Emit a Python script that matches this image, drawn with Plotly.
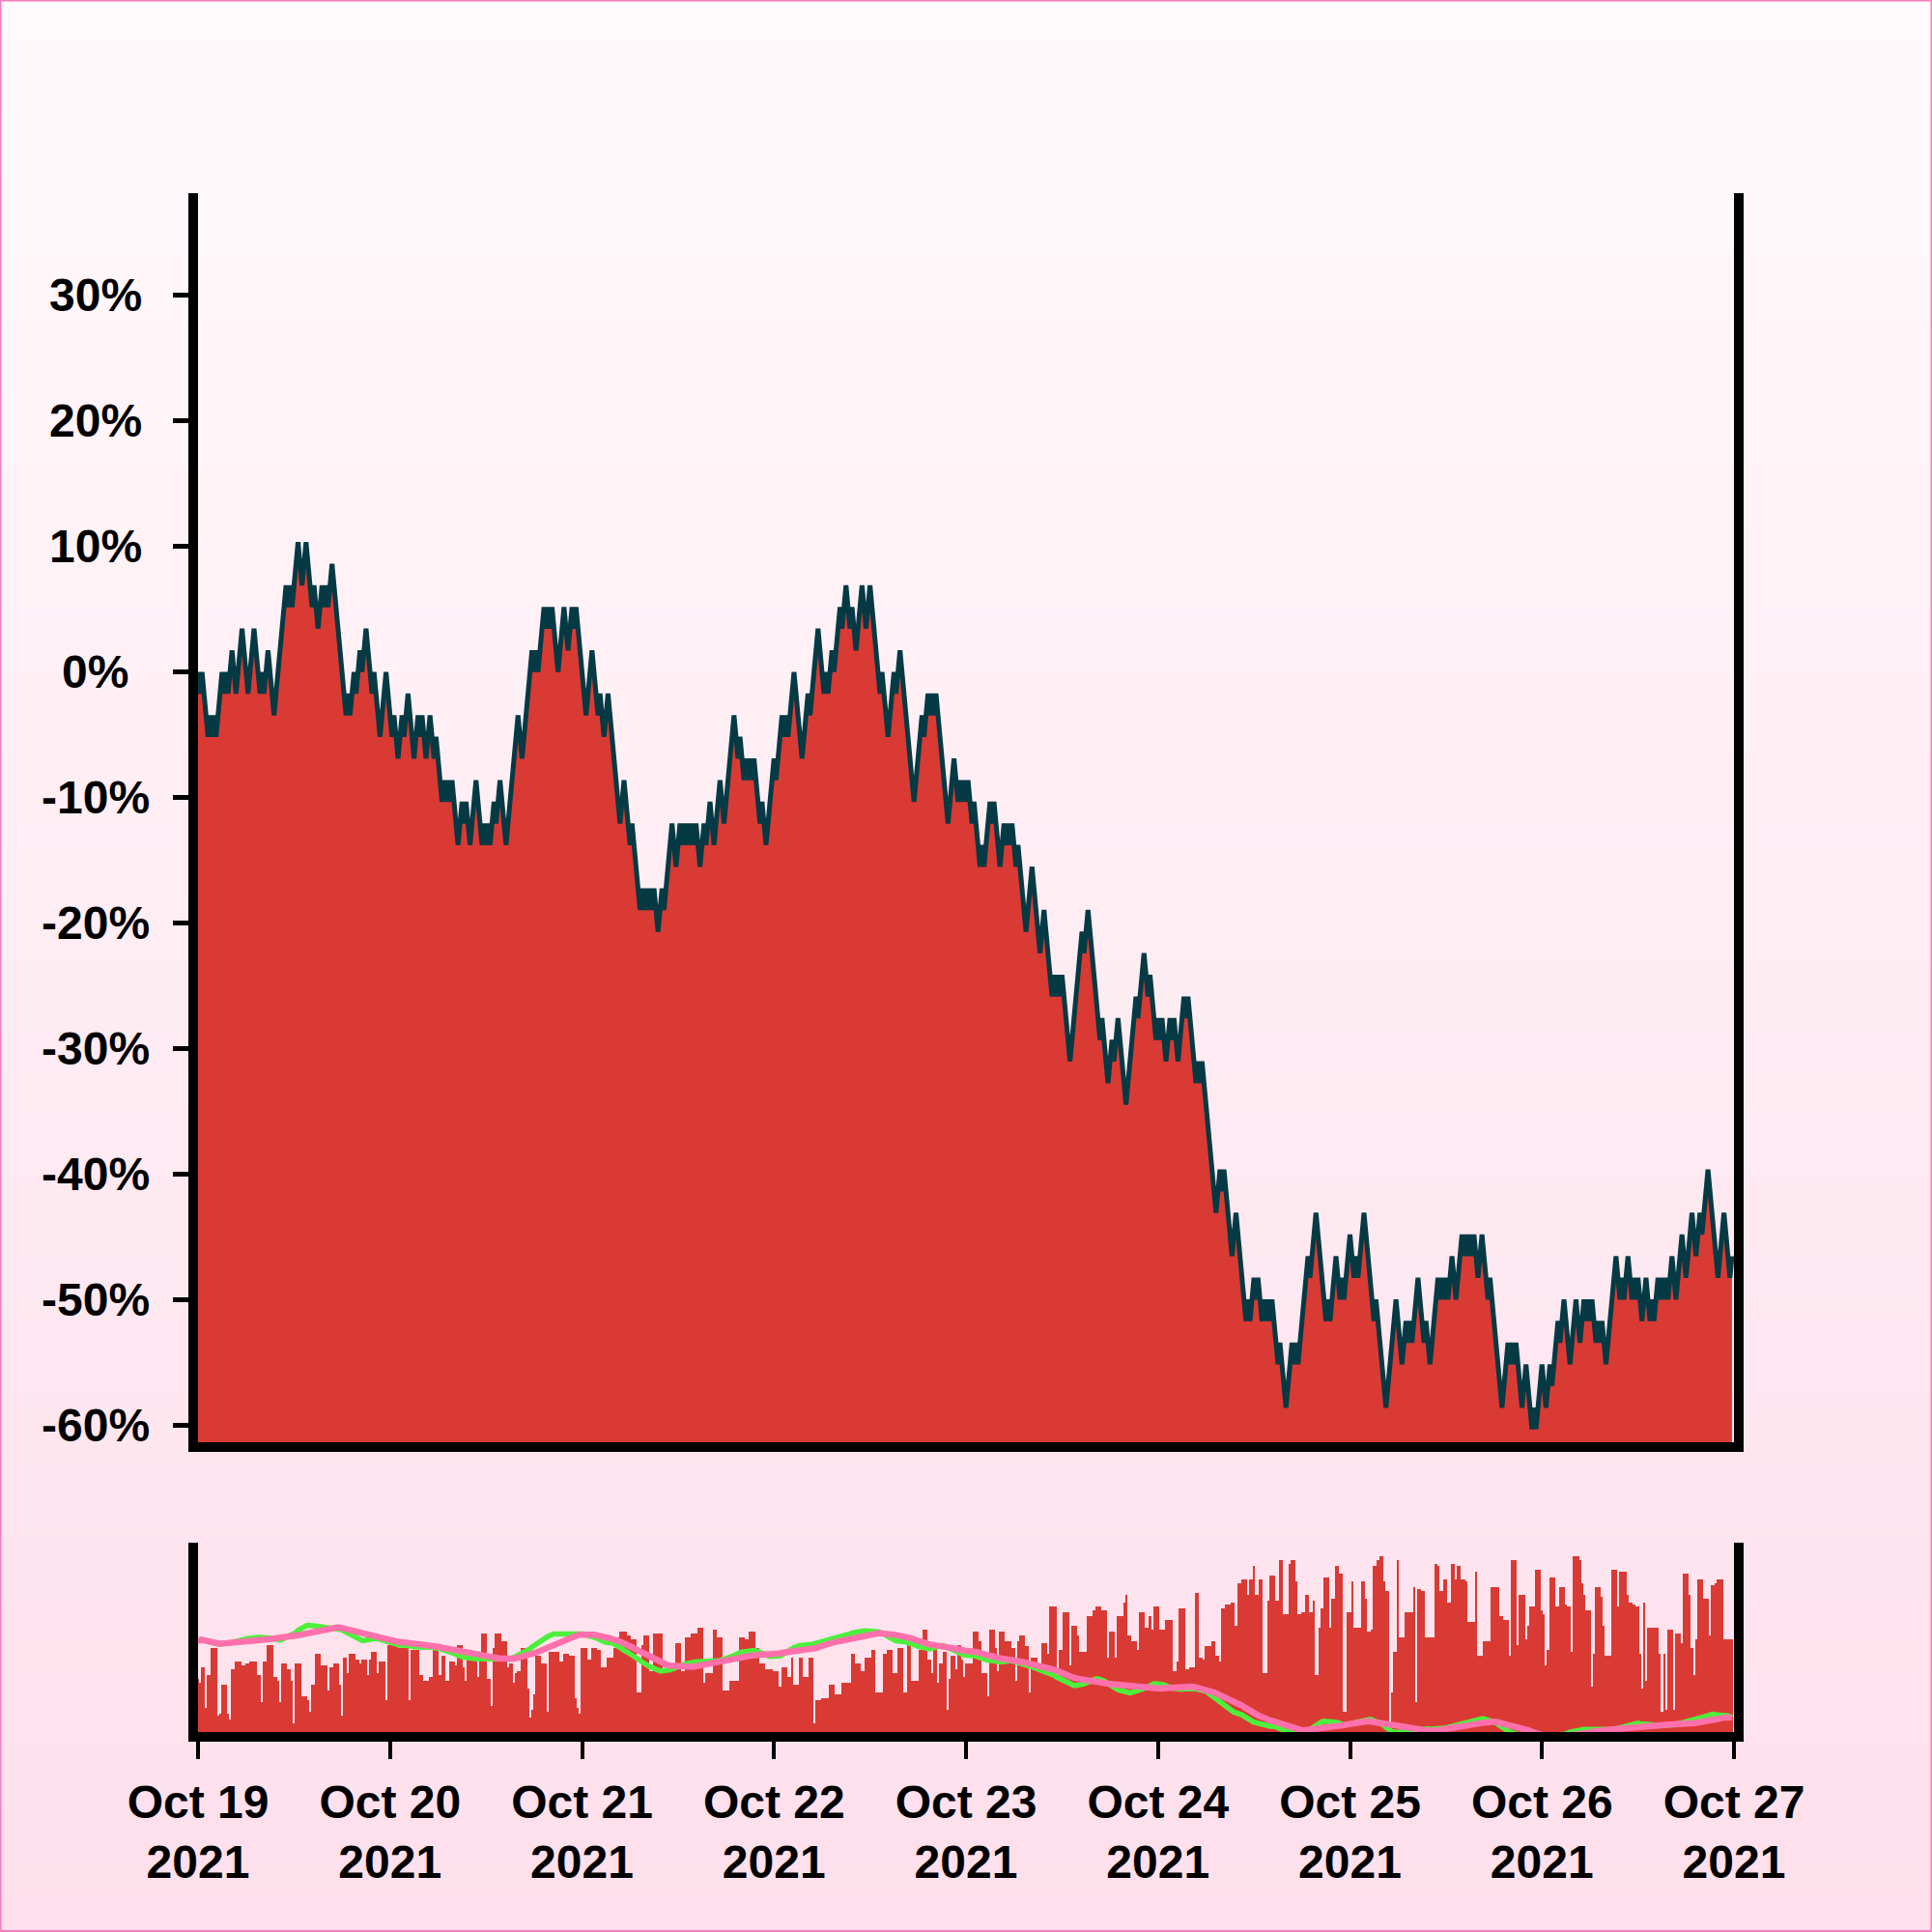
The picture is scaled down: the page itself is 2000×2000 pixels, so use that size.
import base64, struct, zlib
import pandas as pd
import plotly.graph_objects as go

# ---------------- data ----------------
START = "2021-10-19 00:00"
INTERVAL = "15min"

close = [
    58,57,58,57,56,55,56,55,56,55, 56,57,58,57,58,57,58,59,58,57,
    58,59,60,59,58,57,58,59,60,59, 58,57,58,57,58,59,58,57,56,57,
    58,59,60,61,62,61,62,61,62,63, 64,63,62,63,64,63,62,61,62,61,
    60,61,62,61,62,61,62,63,62,61, 60,59,58,57,56,57,56,57,58,57,
    58,59,58,59,60,59,58,57,58,57, 56,55,56,57,58,57,56,55,56,55,
    54,55,56,55,56,57,56,55,54,55, 56,55,56,55,54,55,56,55,54,55,
    54,53,52,53,52,53,52,53,52,51, 50,51,52,51,52,51,50,51,52,53,
    52,51,50,51,50,51,50,51,52,51, 52,53,52,51,50,51,52,53,54,55,
    56,55,54,55,56,57,58,59,58,59, 58,59,60,61,60,61,60,61,60,59,
    58,59,60,61,60,59,60,61,60,61, 60,59,58,57,56,57,58,59,58,57,
    56,57,56,55,56,57,56,55,54,53, 52,51,52,53,52,51,50,51,50,49,
    48,47,48,47,48,47,48,47,48,47, 46,47,48,47,48,49,50,51,50,49,
    50,51,50,51,50,51,50,51,50,51, 50,49,50,51,50,51,52,51,50,51,
    52,53,52,51,52,53,54,55,56,55, 54,55,54,53,54,53,54,53,54,53,
    52,51,52,51,50,51,52,53,54,53, 54,55,56,55,56,55,56,57,58,57,
    56,55,54,55,56,57,56,57,58,59, 60,59,58,57,58,57,58,59,58,59,
    60,61,60,61,62,61,60,61,60,59, 60,61,62,61,60,61,62,61,60,59,
    58,57,58,57,56,55,56,57,58,57, 58,59,58,57,56,55,54,53,52,53,
    54,55,56,55,56,57,56,57,56,57, 56,55,54,53,52,51,52,53,54,53,
    52,53,52,53,52,53,52,51,52,51, 50,49,50,49,50,51,52,51,52,51,
    50,49,50,51,50,51,50,51,50,49, 50,49,48,47,46,47,48,49,48,47,
    46,45,46,47,46,45,44,43,44,43, 44,43,44,43,42,41,40,41,42,43,
    44,45,46,45,46,47,46,45,44,43, 42,41,42,41,40,39,40,41,40,41,
    42,41,40,39,38,39,40,41,42,43, 42,43,44,45,44,43,44,43,42,41,
    42,41,42,41,40,41,42,41,42,41, 40,41,42,43,42,43,42,41,40,39,
    40,39,40,39,38,37,36,35,34,33, 34,35,34,35,34,33,32,31,32,33,
    32,31,30,29,28,29,28,29,30,29, 30,29,28,29,28,29,28,29,28,27,
    26,27,26,25,24,25,26,27,26,27, 26,27,28,29,30,31,30,31,32,33,
    32,31,30,29,28,29,28,29,30,31, 30,29,30,29,30,31,32,31,30,31,
    30,31,32,33,32,31,30,29,28,29, 28,27,26,25,24,25,26,27,28,29,
    28,27,26,27,28,27,28,27,28,29, 30,29,28,27,28,27,26,27,28,29,
    30,29,30,29,30,29,30,31,30,29, 30,31,32,31,32,31,32,31,32,31,
    30,31,32,31,30,29,30,29,28,27, 26,25,24,25,26,27,26,27,26,27,
    26,25,24,25,26,25,24,23,24,23, 24,25,26,25,24,25,26,25,26,27,
    28,27,28,29,28,27,26,27,28,29, 28,27,28,29,28,29,28,29,28,27,
    28,27,28,27,26,27,28,29,30,31, 30,29,30,29,30,31,30,29,30,29,
    30,29,28,29,30,29,28,29,28,29, 30,29,30,29,30,29,30,31,30,29,
    30,31,32,31,30,31,32,33,32,31, 32,33,32,33,34,35,34,33,32,31,
    30,31,32,33,32,31,30,31,
]

volume = [
    30,28,36,36,15,32,32,46,46,46, 11,12,27,27,27,12,9,35,35,39,
    39,39,37,37,38,38,39,39,39,39, 32,32,18,39,39,48,48,48,31,31,
    29,18,38,38,38,35,35,29,7,38, 38,38,21,21,21,19,13,27,27,43,
    43,43,37,37,37,24,36,36,38,38, 38,27,11,41,41,33,43,43,43,40,
    40,38,40,40,40,32,40,44,44,44, 33,39,39,39,19,48,51,51,51,51,
    51,46,46,46,46,46,19,45,45,45, 45,32,32,29,29,29,31,31,46,46,
    46,32,42,42,29,29,39,39,39,37, 48,48,48,36,29,40,40,40,40,40,
    31,40,54,54,54,30,30,16,46,54, 54,54,50,50,50,36,38,38,28,33,
    34,34,46,46,46,25,10,14,22,42, 42,42,38,38,38,13,44,44,44,44,
    44,39,39,43,43,43,42,42,42,20, 15,12,46,46,46,40,40,46,46,46,
    45,45,36,36,36,41,41,41,46,52, 52,55,55,55,55,53,53,51,51,51,
    23,23,48,53,53,53,34,34,54,54, 54,54,54,34,34,34,34,34,34,49,
    49,49,34,34,52,52,52,54,54,54, 57,57,57,28,33,33,33,33,56,56,
    52,52,52,24,24,24,29,29,29,29, 29,52,52,52,51,51,55,55,55,46,
    46,38,38,38,35,35,35,35,34,34, 34,26,36,36,36,31,31,41,27,27,
    27,41,41,31,31,31,41,41,7,19, 19,19,20,20,20,20,27,27,27,22,
    22,22,28,28,28,28,28,43,43,38, 38,38,34,34,41,41,41,45,45,23,
    23,23,23,43,43,45,45,45,33,33, 46,46,46,23,23,50,50,29,29,29,
    29,45,45,56,56,40,40,33,47,47, 28,38,38,44,44,14,30,42,42,35,
    48,48,40,31,
    38,38,38,38,55,55,55,50,33,33, 33,21,56,56,56,46,34,55,55,55,
    50,50,50,46,46,29,50,53,53,53, 47,47,23,41,41,41,38,38,49,49,
    49,43,68,68,68,68,32,45,45,65, 65,65,37,58,58,58,53,44,44,44,
    44,63,63,63,66,68,68,68,66,66, 66,41,55,55,55,41,63,63,63,70,
    74,53,53,50,50,50,45,65,65,65, 57,57,63,56,68,68,68,56,56,56,
    61,61,61,61,34,34,39,67,67,67, 35,35,36,36,36,75,75,41,41,40,
    47,47,47,50,50,42,42,39,67,67, 69,69,69,70,70,58,80,80,82,82,
    82,74,82,82,89,74,74,82,82,33, 33,71,84,84,84,71,71,92,92,64,
    64,64,90,92,92,81,64,64,65,65, 74,74,65,65,71,32,32,57,67,83,
    83,83,57,72,72,89,89,85,85,13, 13,65,65,81,57,57,57,57,81,81,
    72,55,55,56,89,89,92,94,94,81, 76,76,7,23,44,44,92,52,52,52,
    65,65,65,65,78,18,77,77,76,76, 52,52,52,52,52,90,89,76,76,82,
    82,70,70,90,90,82,89,89,82,82, 81,60,60,60,60,86,42,42,42,50,
    50,50,50,78,
    78,78,78,63,63,61,61,61,42,92, 92,92,48,74,74,74,51,58,68,68,
    68,87,87,87,66,64,37,45,83,83, 83,68,68,78,78,78,69,68,68,44,
    94,94,94,92,80,74,66,66,66,26, 43,78,78,78,73,58,42,42,42,87,
    87,87,68,86,86,86,86,74,70,70, 69,68,68,43,25,70,29,57,57,57,
    57,57,57,43,13,43,14,56,56,56, 14,54,54,54,49,85,85,85,74,46,
    32,51,82,82,82,72,72,72,53,79, 79,80,82,82,82,51,51,51,51,51,
]

MA_FAST = 12
MA_SLOW = 28

Y_TICKS = [-60, -50, -40, -30, -20, -10, 0, 10, 20, 30]
Y_RANGE = [-61.4, 38.15]
VOL_RANGE = [2.3, 101.5]
MA_RANGE = [-53.6, 55.6]
X_RANGE = ["2021-10-19 00:00", "2021-10-27 00:00"]

# ---------------- derived series ----------------
dates = pd.date_range(START, periods=len(close), freq=INTERVAL)
s = pd.Series(close, index=dates, dtype=float)
pct = (s / s.iloc[0] - 1.0) * 100.0
ma_fast = pct.rolling(MA_FAST, min_periods=1).mean()
ma_slow = pct.rolling(MA_SLOW, min_periods=1).mean()
n = min(len(dates), len(volume))
vol_x, vol_y = dates[:n], volume[:n]

# ---------------- style ----------------
RED = "#da3a34"
DARK = "#053a44"
GREEN = "#4cf03c"
PINK = "#ff70ac"
FONT = "Liberation Sans, Arial, Helvetica, sans-serif"

W = H = 2000
ML, MR, MT, MB = 205, 205, 200, 206.5
PW, PH = W - ML - MR, H - MT - MB
plot_bottom = H - MB
main_bottom = (plot_bottom - 1493.7) / PH
sub_top = (plot_bottom - 1597) / PH
YLABEL_X = (98.8 - ML) / PW   # centre of y tick labels (paper coords)

def gradient_png(top, bottom, n=256):
    rows = []
    for i in range(n):
        t = i / (n - 1)
        c = bytes(int(round(a + (b - a) * t)) for a, b in zip(top, bottom))
        rows.append(b"\x00" + c * 2)
    raw = b"".join(rows)
    def chunk(tag, data):
        return (struct.pack(">I", len(data)) + tag + data +
                struct.pack(">I", zlib.crc32(tag + data) & 0xffffffff))
    png = (b"\x89PNG\r\n\x1a\n" +
           chunk(b"IHDR", struct.pack(">IIBBBBB", 2, n, 8, 2, 0, 0, 0)) +
           chunk(b"IDAT", zlib.compress(raw, 9)) + chunk(b"IEND", b""))
    return "data:image/png;base64," + base64.b64encode(png).decode()

bg = gradient_png((255, 250, 252), (254, 223, 235))

fig = go.Figure()
fig.add_trace(go.Scatter(x=dates, y=[Y_RANGE[0]] * len(dates), mode="lines",
                         line=dict(width=0, color=RED), hoverinfo="skip",
                         showlegend=False, xaxis="x", yaxis="y"))
fig.add_trace(go.Scatter(x=dates, y=pct, mode="none", fill="tonexty",
                         fillcolor=RED, showlegend=False, xaxis="x", yaxis="y"))
fig.add_trace(go.Scatter(x=dates, y=pct, mode="lines",
                         line=dict(color=DARK, width=5), showlegend=False,
                         xaxis="x", yaxis="y"))
fig.add_trace(go.Bar(x=vol_x, y=vol_y, marker=dict(color=RED, line=dict(width=0)),
                     showlegend=False, xaxis="x2", yaxis="y2"))
fig.add_trace(go.Scatter(x=dates, y=ma_fast, mode="lines",
                         line=dict(color=GREEN, width=5.5), showlegend=False,
                         xaxis="x2", yaxis="y3"))
fig.add_trace(go.Scatter(x=dates, y=ma_slow, mode="lines",
                         line=dict(color=PINK, width=6.5), showlegend=False,
                         xaxis="x2", yaxis="y3"))

axis_line = dict(showline=True, linecolor="black", linewidth=10, showgrid=False,
                 zeroline=False, automargin=False)
label_font = dict(family=FONT, size=48, color="black", weight="bold")

annotations = [dict(x=YLABEL_X, y=v, xref="paper", yref="y", text=f"{v}%",
                    showarrow=False, xanchor="center", yanchor="middle",
                    font=label_font) for v in Y_TICKS]

fig.update_layout(
    width=W, height=H,
    margin=dict(l=ML, r=MR, t=MT, b=MB, pad=0, autoexpand=False),
    paper_bgcolor="rgba(0,0,0,0)", plot_bgcolor="rgba(0,0,0,0)",
    showlegend=False, bargap=0, hovermode=False,
    xaxis=dict(domain=[0, 1], anchor="y", range=X_RANGE, type="date", matches="x2",
               showticklabels=False, ticks="", **axis_line),
    yaxis=dict(domain=[main_bottom, 1], anchor="x", range=Y_RANGE,
               tickvals=Y_TICKS, showticklabels=False,
               ticks="outside", ticklen=16, tickwidth=5, tickcolor="black",
               mirror=True, **axis_line),
    xaxis2=dict(domain=[0, 1], anchor="y2", range=X_RANGE, type="date",
                dtick=86400000, tick0="2021-10-19", tickformat="%b %d<br>%Y",
                ticks="outside", ticklen=18, tickwidth=4, tickcolor="black",
                tickfont=label_font, ticklabelstandoff=3, **axis_line),
    yaxis2=dict(domain=[0, sub_top], anchor="x2", range=VOL_RANGE,
                showticklabels=False, ticks="", mirror=True, **axis_line),
    yaxis3=dict(overlaying="y2", anchor="x2", range=MA_RANGE, visible=False),
    annotations=annotations,
    images=[dict(source=bg, xref="paper", yref="paper",
                 x=-ML / PW, y=1 + MT / PH, sizex=W / PW, sizey=H / PH,
                 xanchor="left", yanchor="top", sizing="stretch", layer="below")],
    shapes=[dict(type="rect", xref="paper", yref="paper",
                 x0=-ML / PW, x1=1 + MR / PW, y0=-MB / PH, y1=1 + MT / PH,
                 line=dict(color="#f77fbe", width=3), layer="below")],
)

fig.write_html("out.html", config={"displayModeBar": False, "staticPlot": True},
               post_script="document.body.style.margin='0';")
